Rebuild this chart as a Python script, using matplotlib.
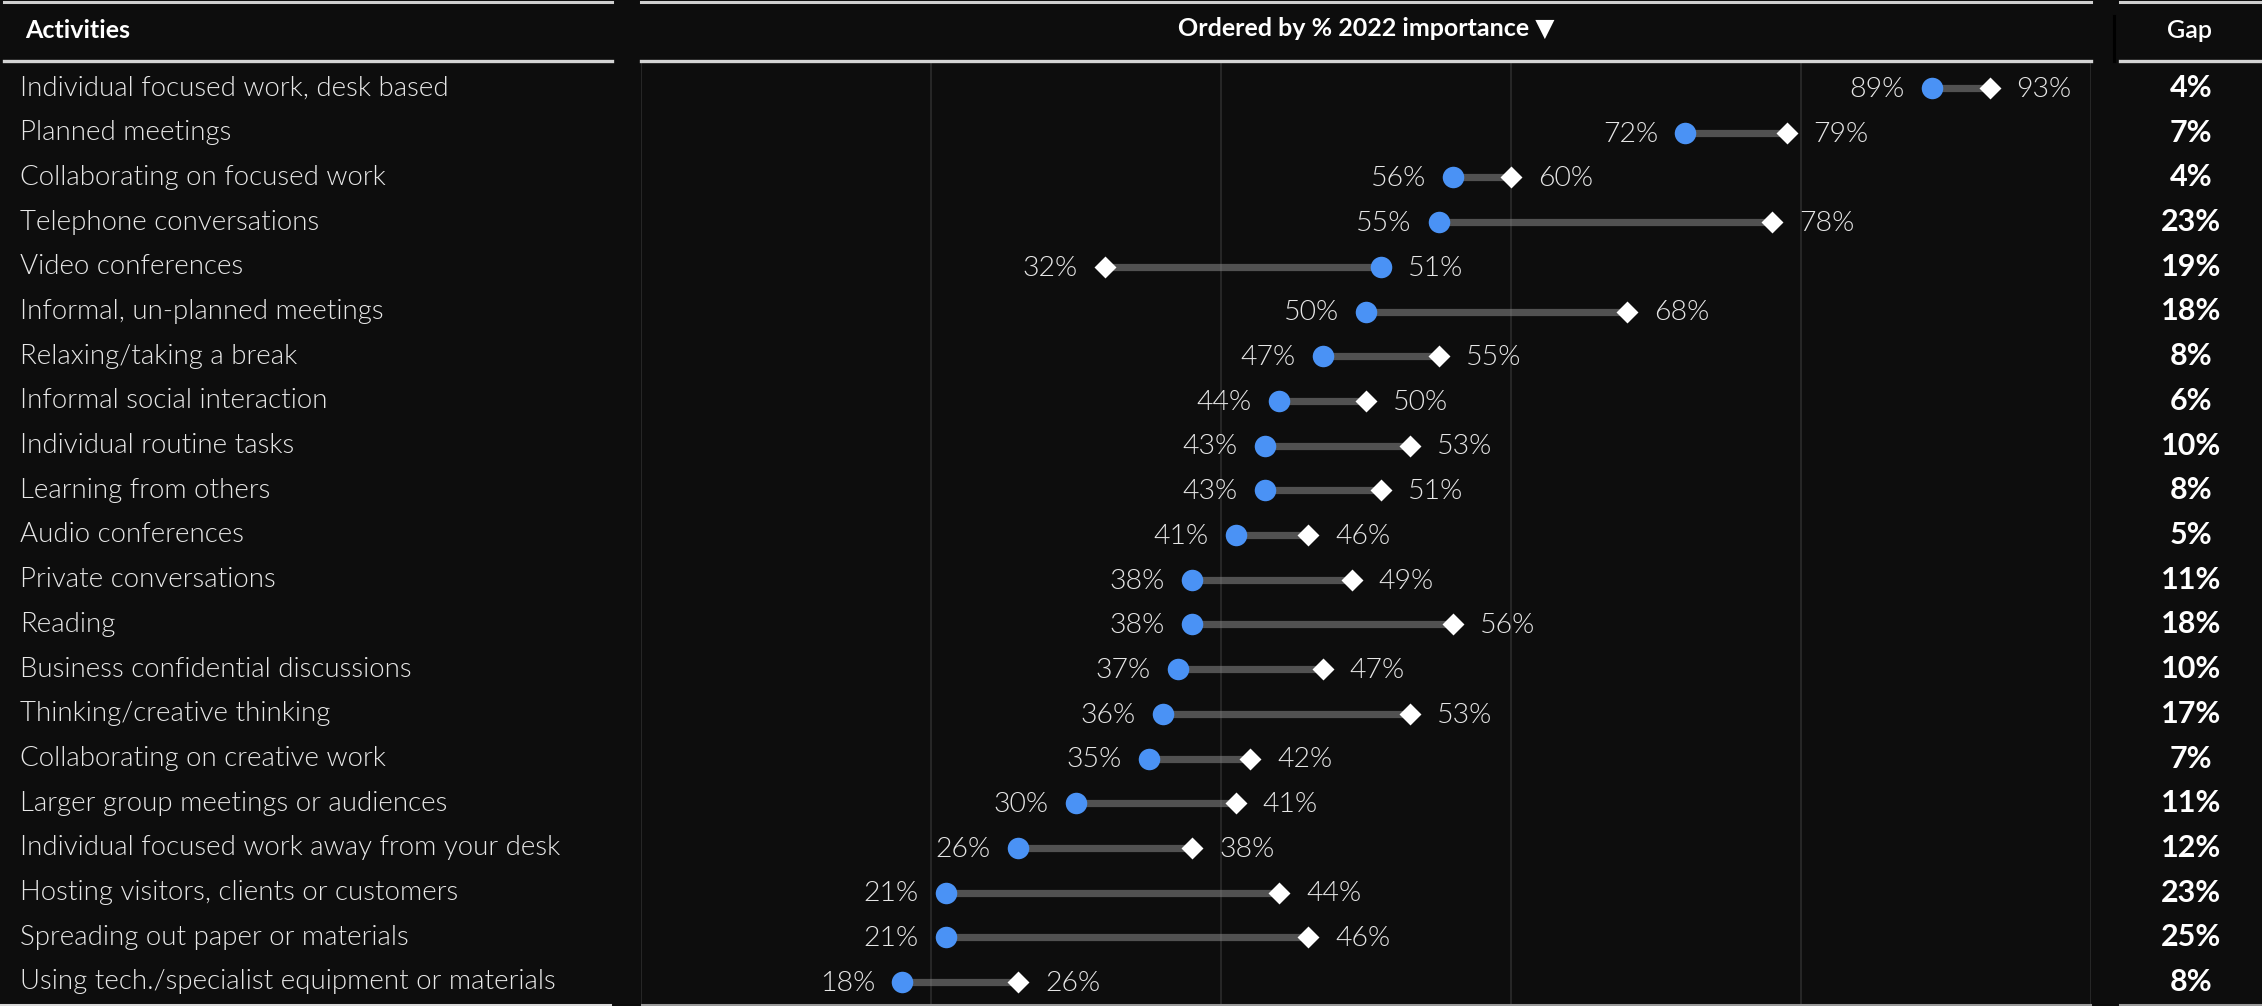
import matplotlib
matplotlib.use('Agg')
import matplotlib.pyplot as plt
from matplotlib.lines import Line2D

activities = [
    'Individual focused work, desk based', 'Planned meetings', 'Collaborating on focused work',
    'Telephone conversations', 'Video conferences', 'Informal, un-planned meetings',
    'Relaxing/taking a break', 'Informal social interaction', 'Individual routine tasks',
    'Learning from others', 'Audio conferences', 'Private conversations', 'Reading',
    'Business confidential discussions', 'Thinking/creative thinking',
    'Collaborating on creative work', 'Larger group meetings or audiences',
    'Individual focused work away from your desk', 'Hosting visitors, clients or customers',
    'Spreading out paper or materials', 'Using tech./specialist equipment or materials',
]
importance_2022 = [89, 72, 56, 55, 51, 50, 47, 44, 43, 43, 41, 38, 38, 37, 36, 35, 30, 26, 21, 21, 18]
comparison = [93, 79, 60, 78, 32, 68, 55, 50, 53, 51, 46, 49, 56, 47, 53, 42, 41, 38, 44, 46, 26]
gap = [4, 7, 4, 23, 19, 18, 8, 6, 10, 8, 5, 11, 18, 10, 17, 7, 11, 12, 23, 25, 8]
grid_ticks = [0, 20, 40, 60, 80, 100]

BG = '#0d0d0d'
BLUE = '#4a92f5'
FONT = ['Lato', 'DejaVu Sans']

W, H = 2262, 1006
fig = plt.figure(figsize=(W / 100, H / 100), dpi=100, facecolor=BG)


def fx(px):
    return px / W


def fy(py):
    return 1 - py / H


def hline(x0, x1, y, color, lw):
    fig.add_artist(Line2D([fx(x0), fx(x1)], [fy(y), fy(y)], color=color, lw=lw,
                          transform=fig.transFigure))


top, bottom = 63, 1004
n = len(activities)
first_row, step = 88, 44.7
ylim = (n - 1 + (bottom - first_row - (n - 1) * step) / step, -(first_row - top) / step)

# dumbbell panel
ax = fig.add_axes([fx(641), fy(bottom), fx(2091) - fx(641), (bottom - top) / H])
ax.set_facecolor(BG)
ax.set_xlim(0, 100)
ax.set_ylim(*ylim)
for t in grid_ticks:
    ax.axvline(t, color='#2c2c2c', lw=1.2, zorder=0)
for s in ax.spines.values():
    s.set_visible(False)
ax.set_xticks([])
ax.set_yticks([])

rows = list(range(n))
for i in rows:
    a, b = importance_2022[i], comparison[i]
    ax.plot([a, b], [i, i], color='#8a8a8a', alpha=0.55, lw=5.2, solid_capstyle='butt', zorder=1)
ax.scatter(comparison, rows, marker='D', s=125, color='white', zorder=3, linewidths=0)
ax.scatter(importance_2022, rows, marker='o', s=240, color=BLUE, zorder=4, linewidths=0)

for i in rows:
    a, b = importance_2022[i], comparison[i]
    lo, hi = min(a, b), max(a, b)
    ax.annotate(f'{lo}%', (lo, i), xytext=(-19.5, -1), textcoords='offset points',
                ha='right', va='center', color='#e6e6e6', fontsize=20.5,
                family=FONT, fontweight=300)
    ax.annotate(f'{hi}%', (hi, i), xytext=(19.5, -1), textcoords='offset points',
                ha='left', va='center', color='#e6e6e6', fontsize=20.5,
                family=FONT, fontweight=300)

# activity names
lax = fig.add_axes([fx(4), fy(bottom), fx(612) - fx(4), (bottom - top) / H])
lax.set_xlim(0, 608)
lax.set_ylim(*ylim)
lax.axis('off')
for i, name in enumerate(activities):
    lax.text(16, i, name, ha='left', va='center', color='#e8e8e8', fontsize=19.9,
             family=FONT, fontweight=300)

# gap column
gax = fig.add_axes([fx(2120), fy(bottom), fx(2262) - fx(2120), (bottom - top) / H])
gax.set_xlim(0, 1)
gax.set_ylim(*ylim)
gax.axis('off')
for i, g in enumerate(gap):
    gax.text(0.5, i, f'{g}%', ha='center', va='center', color='white', fontsize=22,
             family=FONT, fontweight='bold')

# header row
fig.text(fx(25), fy(30), 'Activities', ha='left', va='center', color='white',
         fontsize=18, family=FONT, fontweight='bold')
fig.text(fx(1366), fy(28), 'Ordered by % 2022 importance \u25BC', ha='center', va='center',
         color='white', fontsize=18, family=FONT, fontweight='bold')
fig.text(fx(2190), fy(30), 'Gap', ha='center', va='center', color='white',
         fontsize=18, family=FONT, fontweight='semibold')

for x0, x1 in [(4, 612), (641, 2091), (2120, 2262)]:
    hline(x0, x1, 1.5, '#cfcfcf', 2.2)
    hline(x0, x1, 61, '#d4d4d4', 2.4)
hline(0, 610, 1005, '#d9d9d9', 2.2)
hline(642, 2090, 1005, '#9a9a9a', 2.2)
hline(2120, 2260, 1005, '#9a9a9a', 2.2)
fig.add_artist(Line2D([fx(2114), fx(2114)], [fy(16), fy(61)], color='black', lw=2.2,
                      transform=fig.transFigure))

fig.savefig('out.png', dpi=100, facecolor=BG)
